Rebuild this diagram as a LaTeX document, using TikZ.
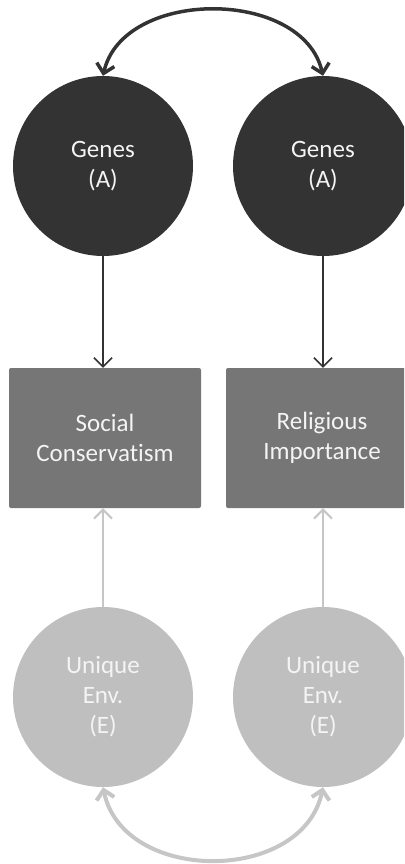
\documentclass[tikz,border=0pt]{standalone}
\usepackage{fontspec}
\setmainfont[Ligatures=NoCommon]{Carlito}
\usetikzlibrary{arrows.meta}
\definecolor{genecol}{HTML}{333333}
\definecolor{boxcol}{HTML}{767676}
\definecolor{envcol}{HTML}{BFBFBF}
\definecolor{envline}{HTML}{C6C6C6}
\definecolor{txtcol}{HTML}{F4F4F4}
\tikzset{
  latent/.style={circle, minimum size=180pt, inner sep=0pt, align=center,
    text=txtcol, font=\fontsize{25}{30}\selectfont},
  gene/.style={latent, fill=genecol},
  env/.style={latent, fill=envcol},
  obsbox/.style={rectangle, rounded corners=2pt, minimum width=192pt,
    minimum height=140pt, inner sep=0pt, align=center, fill=boxcol,
    text=txtcol, font=\fontsize{25}{30}\selectfont},
  darkarrow/.style={draw=genecol, line width=1.6pt,
    -{Straight Barb[length=9pt, width=18pt, line width=1.6pt]}},
  lightarrow/.style={draw=envline, line width=2pt,
    -{Straight Barb[length=9pt, width=18pt, line width=2pt]}},
  darkcov/.style={draw=genecol, line width=3.5pt,
    {Straight Barb[length=9pt, width=18pt, line width=3.5pt]}-{Straight Barb[length=9pt, width=18pt, line width=3.5pt]}},
  lightcov/.style={draw=envline, line width=4pt,
    {Straight Barb[length=9pt, width=18pt, line width=4pt]}-{Straight Barb[length=9pt, width=18pt, line width=4pt]}}
}
\begin{document}
\begin{tikzpicture}[x=1pt, y=-1pt]
  \useasboundingbox (0,0) rectangle (404,864);
  \clip (0,0) rectangle (404,864);

  % latent genetic factors
  \node[gene] (ga) at (103,166) {Genes\\(A)};
  \node[gene] (gb) at (323,166) {Genes\\(A)};

  % observed measures
  \node[obsbox] (soc) at (105,438) {Social\\Conservatism};
  \node[obsbox] (rel) at (322,438) {Religious\\Importance};

  % unique environment factors
  \node[env] (ea) at (103,697) {Unique\\Env.\\(E)};
  \node[env] (eb) at (323,697) {Unique\\Env.\\(E)};

  % paths
  \draw[darkarrow] (ga.south) -- (ga.south |- soc.north);
  \draw[darkarrow] (gb.south) -- (gb.south |- rel.north);
  \draw[lightarrow] (ea.north) -- (ea.north |- soc.south);
  \draw[lightarrow] (eb.north) -- (eb.north |- rel.south);

  % correlations
  \draw[darkcov] (ga.north) .. controls +(20,-88) and +(-20,-88) .. (gb.north);
  \draw[lightcov] (ea.south) .. controls +(20,97) and +(-20,97) .. (eb.south);
\end{tikzpicture}
\end{document}
